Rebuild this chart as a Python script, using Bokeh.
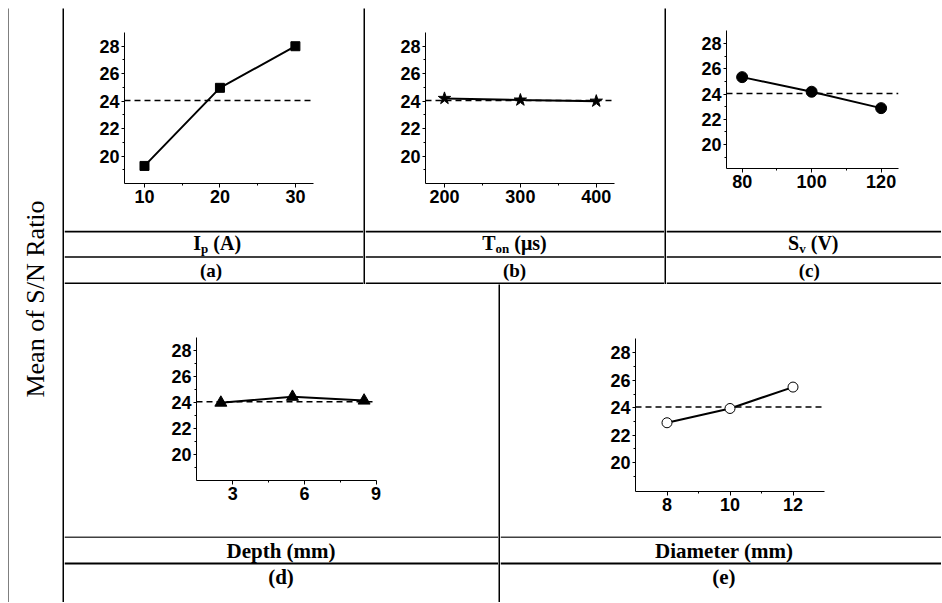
import math
from bokeh.plotting import figure
from bokeh.layouts import row, column
from bokeh.models import Range1d, FixedTicker, Span, Spacer
from bokeh.core.properties import value
from bokeh.embed import file_html
from bokeh.resources import INLINE

# ---------------- data ----------------
ip_levels = [10, 20, 30]
ip_sn = [19.28, 24.97, 28.0]
ton_levels = [200, 300, 400]
ton_sn = [24.2, 24.08, 24.0]
sv_levels = [80, 100, 120]
sv_sn = [25.35, 24.19, 22.89]
depth_levels = [2.5, 5.5, 8.5]
depth_sn = [23.98, 24.43, 24.14]
diam_levels = [8, 10, 12]
diam_sn = [22.91, 23.95, 25.51]
overall_mean = 24.05

sn_ticks = [20, 22, 24, 26, 28]
sn_minor = [19, 21, 23, 25, 27]
ip_ticks, ip_minor = [10, 20, 30], [15, 25]
ton_ticks, ton_minor = [200, 300, 400], [250, 350]
sv_ticks, sv_minor = [80, 100, 120], [90, 110]
depth_ticks, depth_minor = [3, 6, 9], [4.5, 7.5]
diam_ticks, diam_minor = [8, 10, 12], [9, 11]

y_title = "Mean of S/N Ratio"
sub_captions = ["(a)", "(b)", "(c)", "(d)", "(e)"]

# ---------------- helpers ----------------
SERIF = "Liberation Serif"
SANS = "Liberation Sans"
SHIFT = 0.37   # renderer places the alphabetic baseline this many em lower

TB = {'I': 389, 'p': 556, ' ': 250, '(': 333, 'A': 722, ')': 333, 'T': 667, 'o': 500,
      'n': 556, 'μ': 576, 's': 389, 'S': 556, 'v': 500, 'V': 722}


def pix_fig(W, H, bg="white"):
    p = figure(width=W, height=H, x_range=Range1d(0, W), y_range=Range1d(0, H),
               min_border=0, toolbar_location=None, output_backend="svg",
               x_axis_type=None, y_axis_type=None, outline_line_color=None,
               background_fill_color=bg, border_fill_color=bg, frame_align=False)
    p.grid.visible = False
    return p


def rule(p, H, x0, x1, y0, y1):
    p.quad(left=[x0], right=[x1], top=[H - y0], bottom=[H - y1],
           fill_color="black", line_color=None)


def txt(p, H, x, y, s, size, font=SERIF, bold=True, align="center"):
    p.text(x=[x], y=[H - (y - SHIFT * size)], text=[s], text_font=value(font),
           text_font_style="bold" if bold else "normal",
           text_font_size=f"{size}px", text_align=align,
           text_baseline="alphabetic", text_color="black")


def rich(p, H, cx, y, parts, size, sub_scale=0.65, sub_drop=0.15):
    items = []
    total = 0.0
    for s, sub in parts:
        fs = size * sub_scale if sub else size
        lead = len(s) - len(s.lstrip(" "))
        lead_w = lead * TB[' '] / 1000 * fs
        core = s.lstrip(" ")
        w = sum(TB.get(c, 500) for c in core) / 1000 * fs
        items.append((core, sub, fs, lead_w, w))
        total += lead_w + w
    x = cx - total / 2
    for core, sub, fs, lead_w, w in items:
        x += lead_w
        yy = y + (size * sub_drop if sub else 0)
        txt(p, H, x, yy, core, round(fs, 1), align="left")
        x += w


def sep(W, H):
    return pix_fig(W, H, bg="black")


def plot_cell(W, H, frame, xr, yr, xs, ys, xt, xm, marker, msize, mfill):
    l, r, t, b = frame
    p = figure(width=W, height=H, x_range=Range1d(*xr), y_range=Range1d(*yr),
               min_border_left=l, min_border_right=W - r, min_border_top=t,
               min_border_bottom=H - b, toolbar_location=None, output_backend="svg",
               outline_line_color=None, background_fill_color="white",
               border_fill_color="white", frame_align=False)
    p.grid.visible = False
    p.xaxis.ticker = FixedTicker(ticks=xt, minor_ticks=xm)
    p.yaxis.ticker = FixedTicker(ticks=sn_ticks, minor_ticks=sn_minor)
    for ax in (p.xaxis[0], p.yaxis[0]):
        ax.axis_line_color = "black"
        ax.axis_line_width = 1
        ax.major_tick_line_color = "black"
        ax.minor_tick_line_color = "black"
        ax.major_tick_in = 0
        ax.minor_tick_in = 0
        ax.minor_tick_out = 2
        ax.major_label_text_font = SANS
        ax.major_label_text_font_style = "bold"
        ax.major_label_text_font_size = "18px"
        ax.major_label_text_color = "black"
    p.xaxis.major_tick_out = 4
    p.xaxis.major_label_standoff = 2
    p.yaxis.major_tick_out = 3
    p.yaxis.major_label_standoff = 2
    p.add_layout(Span(location=overall_mean, dimension="width", line_color="black",
                      line_width=1.5, line_dash="6 4", level="underlay"))
    p.line(xs, ys, line_color="black", line_width=2)
    p.scatter(xs, ys, marker=marker, size=msize, fill_color=mfill,
              line_color="black", line_width=1)
    return p


# ---------------- left column ----------------
BODY_H = 594
TITLE_F = 26
text_col = pix_fig(53, BODY_H)
text_col.text(x=[36 - SHIFT * TITLE_F], y=[BODY_H - 290.5], text=[y_title],
              text_font=value(SERIF), text_font_size=f"{TITLE_F}px",
              text_align="center", text_baseline="alphabetic",
              text_color="black", angle=math.pi / 2)

# ---------------- top row ----------------
TH = 222
pa = plot_cell(299, TH, (60, 249, 24, 175), (7.35, 32.4), (18.0, 29.0),
               ip_levels, ip_sn, ip_ticks, ip_minor, "square", 9, "black")
pb = plot_cell(299, TH, (60, 249, 24, 175), (175, 424), (18.0, 29.0),
               ton_levels, ton_sn, ton_ticks, ton_minor, "star", 13, "black")
pc = plot_cell(275, TH, (60, 232, 22, 160), (75.5, 125.0), (18.1, 29.05),
               sv_levels, sv_sn, sv_ticks, sv_minor, "circle", 11, "black")


def top_label(W, cx_lab, cx_sub, parts, cap):
    H = 54
    p = pix_fig(W, H)
    rule(p, H, 0, W, 0, 2)
    rule(p, H, 0, W, 25.8, 27.2)
    rule(p, H, 0, W, 52, 54)
    rich(p, H, cx_lab, 20, parts, 20)
    txt(p, H, cx_sub, 47, cap, 19)
    return p


la = top_label(299, 152.7, 146.5, [("I", 0), ("p", 1), (" (A)", 0)], sub_captions[0])
lb = top_label(299, 149, 149, [("T", 0), ("on", 1), (" (μs)", 0)], sub_captions[1])
lc = top_label(275, 146.8, 142.8, [("S", 0), ("v", 1), (" (V)", 0)], sub_captions[2])

top_row = row(column(pa, la), sep(2, 276), column(pb, lb), sep(2, 276), column(pc, lc))

# ---------------- bottom row ----------------
BH = 252
pd = plot_cell(434, BH, (132, 312, 53, 196), (1.48, 9.02), (18.04, 28.96),
               depth_levels, depth_sn, depth_ticks, depth_minor, "triangle", 12, "black")
pe = plot_cell(441, BH, (135, 324, 54, 207), (7.0, 13.0), (17.9, 29.05),
               diam_levels, diam_sn, diam_ticks, diam_minor, "circle", 10, "white")


def bottom_label(W, cx_lab, cx_sub, lab, cap):
    H = 66
    p = pix_fig(W, H)
    rule(p, H, 0, W, -0.2, 1.2)
    rule(p, H, 0, W, 26, 28)
    txt(p, H, cx_lab, 22, lab, 21)
    txt(p, H, cx_sub, 48, cap, 21)
    return p


ld = bottom_label(434, 216.5, 216.5, "Depth (mm)", sub_captions[3])
le = bottom_label(441, 223.7, 223.3, "Diameter (mm)", sub_captions[4])

bottom_row = row(column(pd, ld), sep(2, 318), column(pe, le))

right = column(top_row, bottom_row)
body = row(sep(1, BODY_H), text_col, sep(2, BODY_H), right)
main = column(Spacer(width=933, height=7), sep(933, 1), body)
root = row(Spacer(width=8, height=602), main)

open("out.html", "w").write(file_html(root, INLINE))
